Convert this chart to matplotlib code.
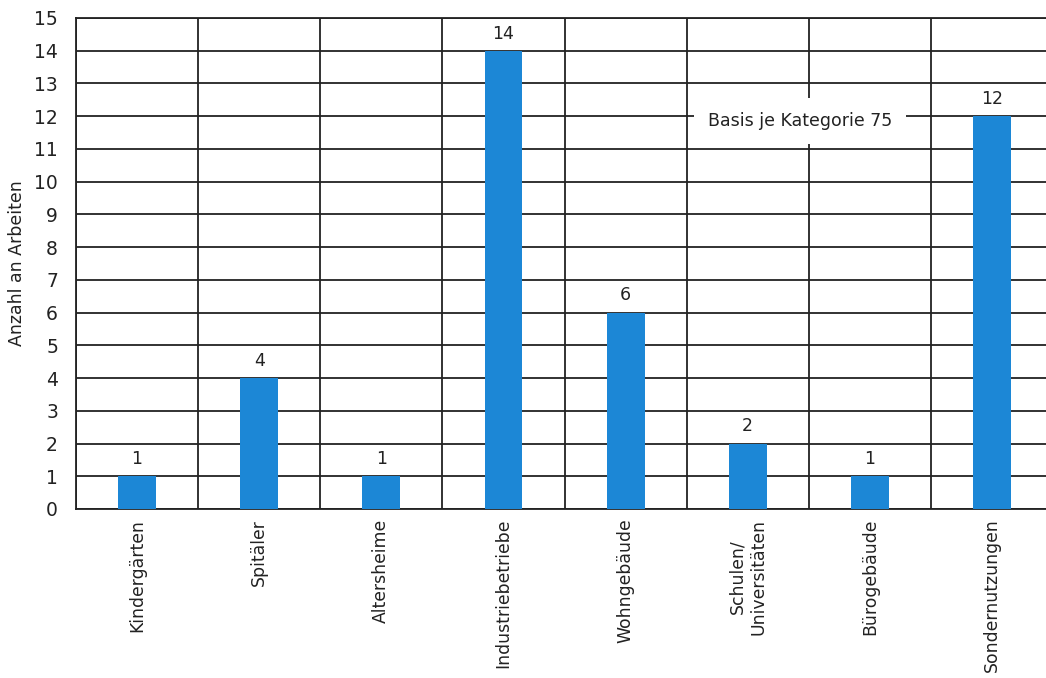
import matplotlib.pyplot as plt
import numpy as np

plt.rcParams['font.family'] = ['DejaVu Sans']

# Anzahl Arbeiten je Gebäudekategorie
kategorien = ['Kindergärten', 'Spitäler', 'Altersheime', 'Industriebetriebe',
              'Wohngebäude', 'Schulen/\nUniversitäten', 'Bürogebäude', 'Sondernutzungen']
anzahl = [1, 4, 1, 14, 6, 2, 1, 12]
y_ticks = list(range(0, 16))

BLAU = '#1c87d6'
LINIE = '#222222'

fig = plt.figure(figsize=(10.46, 6.78), dpi=100)
ax = fig.add_axes([0.0727, 0.2493, 0.934, 0.7242])

x = np.arange(len(kategorien))
bars = ax.bar(x, anzahl, width=0.31, color=BLAU, zorder=3)

# Werte über den Balken
for xi, v in zip(x, anzahl):
    ax.text(xi, v + 0.25, str(v), ha='center', va='bottom', fontsize=12.5,
            color='#222222', zorder=4)

ax.set_xlim(-0.5, len(kategorien) - 0.5)
ax.set_ylim(0, 15)

ax.set_yticks(y_ticks)
ax.set_yticklabels([str(t) for t in y_ticks], fontsize=13.5, color='#222222')
ax.set_xticks(x)
ax.set_xticklabels(kategorien, rotation=90, fontsize=12.4, color='#222222',
                   ha='center', va='top', multialignment='center')
ax.set_xticks(np.arange(-0.5, len(kategorien)), minor=True)
ax.tick_params(axis='both', which='both', length=0)
ax.tick_params(axis='y', pad=13)
ax.tick_params(axis='x', pad=7)

# Gitternetz: horizontale Linien je Einheit, vertikale Linien zwischen Kategorien
ax.grid(axis='y', which='major', color=LINIE, linewidth=1.3, zorder=1)
ax.grid(axis='x', which='minor', color=LINIE, linewidth=1.3, zorder=1)
ax.grid(axis='x', which='major', visible=False)
ax.set_axisbelow(True)

for s in ax.spines.values():
    s.set_color(LINIE)
    s.set_linewidth(1.3)
ax.spines['right'].set_visible(False)

ax.set_ylabel('Anzahl an Arbeiten', fontsize=12.5, color='#222222', labelpad=6)

ax.text(5.43, 11.85, 'Basis je Kategorie 75', ha='center', va='center',
        fontsize=12.5, color='#222222', zorder=5,
        bbox=dict(boxstyle='square,pad=0.8', facecolor='white', edgecolor='none'))

fig.savefig('out.png', dpi=100, facecolor='white')
